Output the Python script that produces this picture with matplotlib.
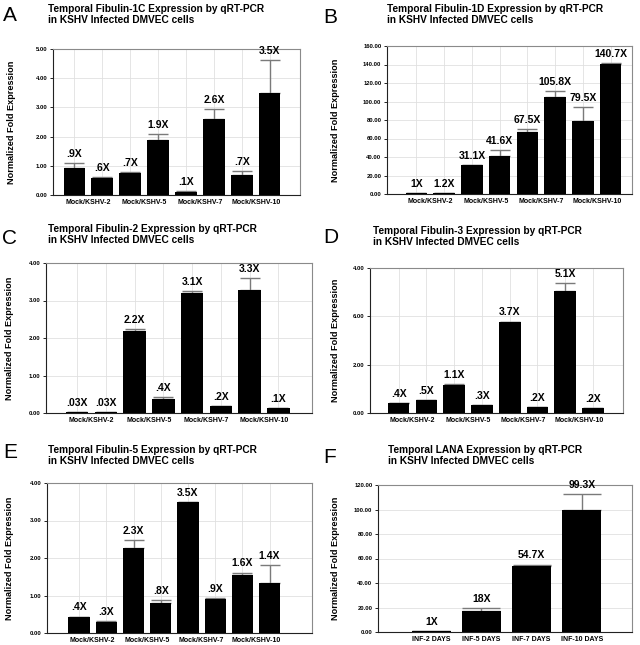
import matplotlib
matplotlib.use("Agg")
import matplotlib.pyplot as plt
import numpy as np

plt.rcParams['font.family'] = ['Liberation Sans', 'DejaVu Sans']

# ---- data ----
mock_groups = ['Mock/KSHV-2', 'Mock/KSHV-5', 'Mock/KSHV-7', 'Mock/KSHV-10']
lana_groups = ['INF-2 DAYS', 'INF-5 DAYS', 'INF-7 DAYS', 'INF-10 DAYS']

fib1c_vals = [0.92, 0.57, 0.77, 1.87, 0.11, 2.61, 0.70, 3.51]
fib1c_err = [0.17, 0.03, 0.02, 0.21, 0.03, 0.34, 0.12, 1.10]
fib1c_lbl = ['.9X', '.6X', '.7X', '1.9X', '.1X', '2.6X', '.7X', '3.5X']

fib1d_vals = [1.0, 1.2, 31.0, 41.4, 67.0, 105.4, 79.1, 140.4]
fib1d_err = [0.0, 0.0, 0.6, 6.5, 3.5, 6.0, 14.8, 1.3]
fib1d_lbl = ['1X', '1.2X', '31.1X', '41.6X', '67.5X', '105.8X', '79.5X', '140.7X']

fib2_vals = [0.03, 0.03, 2.18, 0.38, 3.20, 0.18, 3.29, 0.13]
fib2_err = [0.0, 0.0, 0.06, 0.04, 0.05, 0.0, 0.31, 0.0]
fib2_lbl = ['.03X', '.03X', '2.2X', '.4X', '3.1X', '.2X', '3.3X', '.1X']

fib3_vals = [0.40, 0.54, 1.17, 0.34, 3.75, 0.23, 5.06, 0.21]
fib3_err = [0.0, 0.0, 0.02, 0.0, 0.03, 0.0, 0.32, 0.0]
fib3_lbl = ['.4X', '.5X', '1.1X', '.3X', '3.7X', '.2X', '5.1X', '.2X']
fib3_ticklabels = ['0.00', '2.00', '6.00', '4.00']

fib5_vals = [0.43, 0.30, 2.26, 0.80, 3.49, 0.92, 1.54, 1.34]
fib5_err = [0.01, 0.01, 0.22, 0.07, 0.01, 0.02, 0.07, 0.48]
fib5_lbl = ['.4X', '.3X', '2.3X', '.8X', '3.5X', '.9X', '1.6X', '1.4X']

lana_vals = [1.0, 17.4, 53.5, 99.6]
lana_err = [0.0, 1.9, 1.6, 12.8]
lana_lbl = ['1X', '18X', '54.7X', '99.3X']

W, H = 640, 645
fig = plt.figure(figsize=(W / 100, H / 100), dpi=100)


def ax_px(l, r, t, b):
    return fig.add_axes([l / W, (H - b) / H, (r - l) / W, (b - t) / H])


def panel(ax, vals, err, lbls, groups, ymax, step, xlim, capsize, yticklabels=None):
    n = len(vals)
    x = np.arange(n)
    ax.bar(x, vals, width=0.78, color='black', zorder=3)
    ax.errorbar(x, vals, yerr=[np.zeros(n), err], fmt='none', ecolor='#7a7a7a',
                elinewidth=1, capsize=capsize, capthick=1, zorder=2)
    for xi, v, e, t in zip(x, vals, err, lbls):
        ax.annotate(t, (xi, v + e), xytext=(0, 3), textcoords='offset points',
                    ha='center', va='bottom', fontsize=7.5, fontweight='bold')
    ax.set_xlim(*xlim)
    ax.set_ylim(0, ymax)
    yt = np.arange(0, ymax + step / 2, step)
    ax.set_yticks(yt)
    if yticklabels is None:
        yticklabels = ['%.2f' % v for v in yt]
    ax.set_yticklabels(yticklabels, fontsize=4.2, fontweight='bold')
    ax.set_xticks(x, minor=True)
    if len(groups) == n:
        ax.set_xticks(x)
        ax.set_xticklabels(groups, fontsize=5, fontweight='bold')
    else:
        ax.set_xticks(x[::2] + 0.5)
        ax.set_xticklabels(groups, fontsize=5, fontweight='bold')
    ax.grid(False)
    ax.yaxis.grid(True, color='#e0e0e0', lw=0.6, zorder=0)
    ax.xaxis.grid(True, which='minor', color='#e0e0e0', lw=0.6, zorder=0)
    ax.tick_params(axis='x', which='both', length=0, pad=3)
    ax.tick_params(axis='y', length=2, width=0.6, pad=2)
    ax.spines['left'].set_color('#222222')
    ax.spines['bottom'].set_color('#222222')
    ax.spines['top'].set_color('#8a8a8a')
    ax.spines['right'].set_color('#8a8a8a')
    for s in ax.spines.values():
        s.set_linewidth(0.8)
    ax.set_axisbelow(True)


def titles(letter, lx, ly, title, tx, ty, ylx, ax):
    fig.text(lx / W, 1 - ly / H, letter, fontsize=15, ha='left', va='top')
    fig.text(tx / W, 1 - ty / H, title, fontsize=7.3, fontweight='bold',
             ha='left', va='top', linespacing=1.15)
    pos = ax.get_position()
    fig.text(ylx / W, pos.y0 + pos.height / 2, 'Normalized Fold Expression',
             rotation=90, ha='center', va='center', fontsize=6.6, fontweight='bold')


axA = ax_px(53, 300, 49, 195)
panel(axA, fib1c_vals, fib1c_err, fib1c_lbl, mock_groups, 5, 1, (-0.77, 8.09), 7.5)
titles('A', 3, 6, 'Temporal Fibulin-1C Expression by qRT-PCR\nin KSHV Infected DMVEC cells', 48, 4, 12, axA)

axB = ax_px(387, 632, 46, 194)
panel(axB, fib1d_vals, fib1d_err, fib1d_lbl, mock_groups, 160, 20, (-1.06, 7.77), 7.5)
titles('B', 323, 8, 'Temporal Fibulin-1D Expression by qRT-PCR\nin KSHV Infected DMVEC cells', 387, 4, 336, axB)

axC = ax_px(46, 312, 263, 413)
panel(axC, fib2_vals, fib2_err, fib2_lbl, mock_groups, 4, 1, (-1.08, 8.17), 7.5)
titles('C', 2, 229, 'Temporal Fibulin-2 Expression by qRT-PCR\nin KSHV Infected DMVEC cells', 48, 224, 10, axC)

axD = ax_px(370, 623, 268, 413)
panel(axD, fib3_vals, fib3_err, fib3_lbl, mock_groups, 6, 2, (-1.03, 8.08), 7.5,
      yticklabels=fib3_ticklabels)
titles('D', 323, 228, 'Temporal Fibulin-3 Expression by qRT-PCR\nin KSHV Infected DMVEC cells', 373, 226, 335, axD)

axE = ax_px(47, 312, 483, 633)
panel(axE, fib5_vals, fib5_err, fib5_lbl, mock_groups, 4, 1, (-1.18, 8.56), 7.5)
titles('E', 3, 443, 'Temporal Fibulin-5 Expression by qRT-PCR\nin KSHV Infected DMVEC cells', 48, 445, 10, axE)

axF = ax_px(378, 632, 485, 632)
panel(axF, lana_vals, lana_err, lana_lbl, lana_groups, 120, 20, (-1.06, 4.0), 13.5)
titles('F', 323, 448, 'Temporal LANA Expression by qRT-PCR\nin KSHV Infected DMVEC cells', 388, 445, 335, axF)

fig.savefig('out.png', dpi=100)
